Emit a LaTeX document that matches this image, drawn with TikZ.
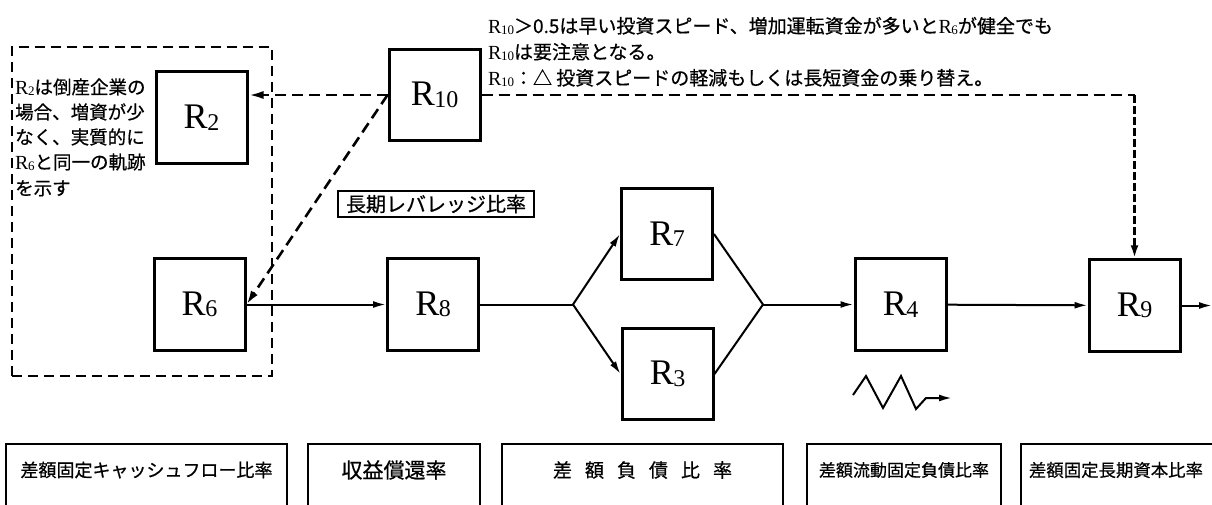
\documentclass[tikz,border=0pt]{standalone}
\usepackage{fontspec}
\usepackage{graphicx}
\newfontfamily\jp[FakeBold=0.6]{Noto Sans CJK JP}
\newfontfamily\rfont{Liberation Serif}
\usetikzlibrary{arrows.meta,calc}
\newcommand{\RS}[2]{{\rfont R\kern-0.5pt\raisebox{-1.5pt}{\fontsize{#2}{#2}\selectfont #1}}}
\newcommand{\RB}[1]{{\fontsize{36}{36}\selectfont\RS{#1}{24}}}
\newcommand{\Ri}[1]{{\fontsize{20}{20}\selectfont\RS{#1}{13}}}
\begin{document}
\begin{tikzpicture}[x=1pt,y=-1pt,
  rbox/.style={draw,line width=3pt,minimum width=91pt,minimum height=91.5pt,inner sep=0pt},
  conn/.style={line width=2pt},
  arr/.style={conn,-{Latex[length=13pt,width=7pt]}},
  dline/.style={line width=2.6pt,dash pattern=on 11pt off 6pt},
  vline/.style={line width=3pt,dash pattern=on 8pt off 3pt},
  grpbox/.style={draw,line width=2.4pt,dash pattern=on 10pt off 6pt,inner sep=0pt},
  jtxt/.style={anchor=base west,inner sep=0pt,font=\jp\fontsize{18.5}{18.5}\selectfont},
  toptxt/.style={anchor=base west,inner sep=0pt,font=\jp\fontsize{19}{19}\selectfont},
  frame/.style={line width=1.4pt},
  btxt/.style={inner sep=0pt,font=\jp\fontsize{#1}{#1}\selectfont},
]
\useasboundingbox (0,0) rectangle (1212,504);
\clip (0,0) rectangle (1212,504);

% group box
\node[grpbox,minimum width=260pt,minimum height=329pt] (grp) at (142,211.5) {};

% boxes
\node[rbox] (R2) at (201.5,117.5) {\RB{2}};
\node[rbox] (R10) at (434.5,95) {\RB{10}};
\node[rbox] (R6) at (199.5,304.5) {\RB{6}};
\node[rbox] (R8) at (433,304.5) {\RB{8}};
\node[rbox] (R7) at (667,234) {\RB{7}};
\node[rbox] (R3) at (667.5,374) {\RB{3}};
\node[rbox] (R4) at (900.5,304.5) {\RB{4}};
\node[rbox] (R9) at (1134.5,305.5) {\RB{9}};

% left text
\node[jtxt] (t1) at (15,94) {\Ri{2}は倒産企業の};
\node[jtxt] (t2) at (15,119) {場合、増資が少};
\node[jtxt] (t3) at (15,144) {なく、実質的に};
\node[jtxt] (t4) at (15,169) {\Ri{6}と同一の軌跡};
\node[jtxt] (t5) at (15,195) {を示す};

% top text
\node[toptxt] (u1) at (488,33) {\Ri{10}＞0.5は早い投資スピード、増加運転資金が多いと\Ri{6}が健全でも};
\node[toptxt] (u2) at (488,59) {\Ri{10}は要注意となる。};
\node[toptxt] (u3) at (488,85) {\Ri{10}：△ 投資スピードの軽減もしくは長短資金の乗り替え。};

% leverage label
\node[draw,line width=2pt,minimum width=196pt,minimum height=26pt,inner sep=0pt,font=\jp\fontsize{20}{20}\selectfont] (lev) at (436,204) {長期レバレッジ比率};

% dashed connectors
\draw[dline,-{Latex[length=15pt,width=8pt]}] (R10.west) -- (R10.west -| R2.east);
\draw[dline,-{Latex[length=14pt,width=8pt]}] (R10.west) -- (R6.east);
\coordinate (c1) at (R9.north |- R10.east);
\draw[dline] (R10.east) -- (c1);
\draw[vline,-{Latex[length=13pt,width=8pt]}] (c1) -- (R9.north);

% solid connectors
\coordinate (sp) at (573,304.5);
\coordinate (mg) at (763,304.5);
\coordinate (out) at (1212,305.5);
\draw[arr] (R6) -- (R8);
\draw[conn] (R8.east) -- (sp);
\draw[arr] (sp) -- (R7.west);
\draw[arr] (sp) -- (R3.west);
\draw[conn] (R7.east) -- (mg);
\draw[conn] (R3.east) -- (mg);
\draw[arr] (mg) -- (R4.west);
\draw[arr] (R4) -- (R9);
\draw[arr] (R9.east) -- (out);

% zigzag
\draw[conn,-{Latex[length=13pt,width=7pt]}] (853,395) -- (866,376) -- (883,408) -- (901,376) -- (916,409) -- (926,398) -- (952,398);

% bottom frames (open at the bottom)
\draw[frame] (6,520) -- (6,444) -- (287,444) -- (287,520);
\draw[frame] (308,520) -- (308,444) -- (480,444) -- (480,520);
\draw[frame] (502,520) -- (502,444) -- (783,444) -- (783,520);
\draw[frame] (807,520) -- (807,444) -- (1001,444) -- (1001,520);
\draw[frame] (1021,520) -- (1021,444) -- (1215,444) -- (1215,520);
\node[btxt=18] (b1) at (146.5,470) {差額固定キャッシュフロー比率};
\node[btxt=21] (b2) at (394,470) {収益償還率};
\node[btxt=19] (b3) at (642.5,470) {差\hspace{13pt}額\hspace{13pt}負\hspace{13pt}債\hspace{13pt}比\hspace{13pt}率};
\node[btxt=17] (b4) at (904,470) {差額流動固定負債比率};
\node[btxt=17.4] (b5) at (1116,470) {差額固定長期資本比率};
\end{tikzpicture}
\end{document}
